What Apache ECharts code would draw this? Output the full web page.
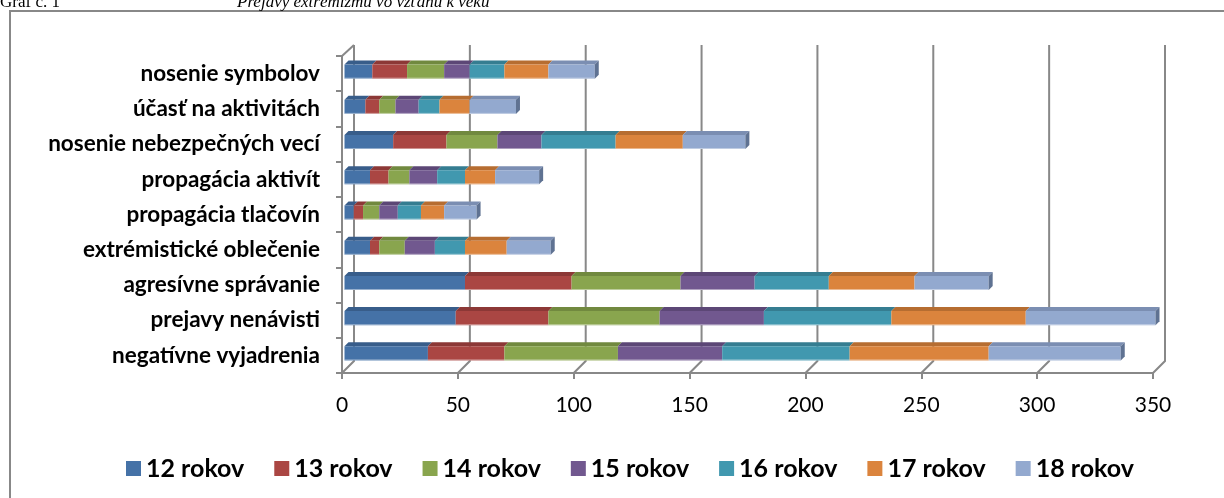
<!DOCTYPE html>
<html><head><meta charset="utf-8">
<script src="https://cdn.jsdelivr.net/npm/echarts@6/dist/echarts.min.js"></script>
<style>html,body{margin:0;padding:0;background:#fff;overflow:hidden}#c{width:1224px;height:498px;}</style>
</head><body><div id="c"></div>
<script>
const categories = ['negatívne vyjadrenia','prejavy nenávisti','agresívne správanie','extrémistické oblečenie','propagácia tlačovín','propagácia aktivít','nosenie nebezpečných vecí','účasť na aktivitách','nosenie symbolov'];
const seriesNames = ['12 rokov','13 rokov','14 rokov','15 rokov','16 rokov','17 rokov','18 rokov'];
const r12 = [36,48,52,11,4,11,21,9,12];
const r13 = [33,40,46,4,4,8,23,6,15];
const r14 = [49,48,47,11,7,9,22,7,16];
const r15 = [45,45,32,13,8,12,19,10,11];
const r16 = [55,55,32,13,10,12,32,9,15];
const r17 = [60,58,37,18,10,13,29,13,19];
const r18 = [57,56,32,19,14,19,27,20,20];
const xTicks = [0,50,100,150,200,250,300,350];

const values = [r12,r13,r14,r15,r16,r17,r18];
const colors = ['#4572A7','#AA4643','#89A54E','#71588F','#4198AF','#DB843D','#93A9CF'];
const topColors = ['#385d8a','#8c3836','#71893f','#5c4776','#357d91','#b66d31','#7b8eb2'];
const sideColor = '#5f7292';
const OX = 12, OY = 12;
const FONT = 'Lato';

function makeRender(s){
  return function(params, api){
    const ci = api.value(0), a = api.value(1), b = api.value(2);
    const p0 = api.coord([a, ci]), p1 = api.coord([b, ci]);
    const band = api.size([0,1])[1];
    const h = band*0.40, d = 4, dx = 2.5;
    const x0 = p0[0]+dx, x1 = p1[0]+dx, yc = p0[1]-2;
    const yt = yc - h/2;
    const children = [
      {type:'polygon', shape:{points:[[x0,yt],[x1,yt],[x1+d,yt-d],[x0+d,yt-d]]}, style:{fill: topColors[s]}},
      {type:'rect', shape:{x:x0,y:yt,width:x1-x0,height:h}, style:{fill: colors[s]}},
      {type:'line', shape:{x1:x0,y1:yt+h-0.5,x2:x1,y2:yt+h-0.5}, style:{stroke:'rgba(255,255,255,0.45)', lineWidth:1}}
    ];
    if (s === values.length-1) {
      children.push({type:'polygon', shape:{points:[[x1,yt],[x1+d,yt-d],[x1+d,yt+h-d],[x1,yt+h]]}, style:{fill: sideColor}});
    }
    return {type:'group', children};
  };
}

const series = [];
series.push({
  type:'custom', name:'_frame', silent:true, z:1,
  data: xTicks.map(v=>[v]),
  renderItem: function(params, api){
    const v = api.value(0);
    const cs = params.coordSys;
    const x = api.coord([v, 0])[0];
    const yb = cs.y + cs.height, ytop = cs.y - 11;
    const ch = [{type:'polyline', shape:{points:[[x,yb],[x+OX,yb-OY],[x+OX,ytop]]}, style:{stroke:'#888', lineWidth:2, fill:null}}];
    if (v === 0) ch.push({type:'line', shape:{x1:x,y1:cs.y,x2:x+OX,y2:ytop}, style:{stroke:'#888', lineWidth:2}});
    return {type:'group', children:ch};
  },
  encode:{x:0}
});
const cum = categories.map(()=>0);
values.forEach((arr, s)=>{
  const data = arr.map((v,i)=>{ const a = cum[i]; cum[i] += v; return [i, a, cum[i]]; });
  series.push({
    type:'custom', name: seriesNames[s], z:3,
    itemStyle:{color: colors[s]},
    renderItem: makeRender(s),
    encode:{y:0, x:[1,2]},
    data
  });
});

const chart = echarts.init(document.getElementById('c'), null, {renderer:'canvas'});
chart.setOption({
  animation:false,
  backgroundColor:'#fff',
  title:[
    {text:'Graf č. 1', left:-5, top:-11, textStyle:{fontFamily:'Liberation Serif', fontWeight:'normal', fontSize:17, color:'#000'}},
    {text:'Prejavy extrémizmu vo vzťahu k veku', left:232, top:-11, textStyle:{fontFamily:'Liberation Serif', fontWeight:'normal', fontStyle:'italic', fontSize:17, color:'#000'}}
  ],
  grid:{left:342, right:71, top:56, bottom:125, containLabel:false},
  xAxis:{type:'value', min:0, max:350, interval:50,
    axisLine:{show:true, lineStyle:{color:'#888', width:2}},
    axisTick:{show:true, length:6, lineStyle:{color:'#888', width:2}},
    axisLabel:{color:'#000', fontFamily:FONT, fontSize:21, margin:22},
    splitLine:{show:false}},
  yAxis:{type:'category', data:categories,
    axisLine:{show:true, lineStyle:{color:'#888', width:2}},
    axisTick:{show:true, length:6, lineStyle:{color:'#888', width:2}},
    axisLabel:{color:'#000', fontFamily:FONT, fontWeight:'bold', fontSize:22.5, margin:22},
    splitLine:{show:false}},
  legend:{data:seriesNames, left:121, top:451, icon:'rect', itemWidth:15, itemHeight:15, itemGap:30,
    textStyle:{color:'#000', fontFamily:FONT, fontWeight:'bold', fontSize:25}},
  graphic:[
    {type:'rect', shape:{x:10, y:11, width:1240, height:520}, style:{fill:null, stroke:'#888', lineWidth:2}, silent:true}
  ],
  series
});
</script></body></html>
